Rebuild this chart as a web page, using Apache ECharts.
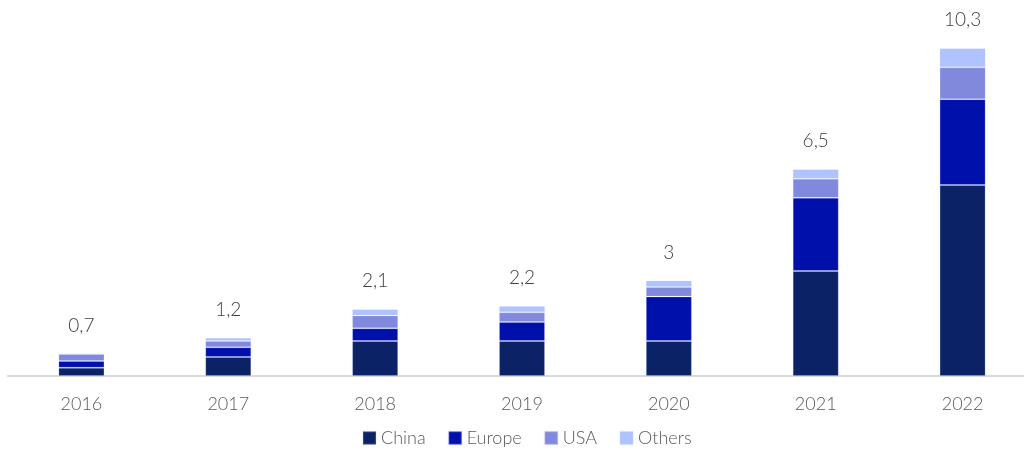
<!DOCTYPE html>
<html>
<head>
<meta charset="utf-8">
<script src="https://cdn.jsdelivr.net/npm/echarts@6/dist/echarts.min.js"></script>
<style>
  html, body { margin: 0; padding: 0; background: #fff; }
  #chart { width: 1024px; height: 450px; }
</style>
</head>
<body>
<div id="chart"></div>
<script>
// 年份
const years = ['2016', '2017', '2018', '2019', '2020', '2021', '2022'];
// 各地区数值
const china  = [0.26, 0.6, 1.1, 1.1, 1.1, 3.3, 6.0];
const europe = [0.21, 0.3, 0.4, 0.6, 1.4, 2.3, 2.7];
const usa    = [0.22, 0.2, 0.4, 0.3, 0.3, 0.6, 1.0];
const others = [0.0, 0.1, 0.2, 0.2, 0.2, 0.3, 0.6];
// 柱顶总计
const totals = [0.7, 1.2, 2.1, 2.2, 3, 6.5, 10.3];

const chart = echarts.init(document.getElementById('chart'));

const fontFamily = 'Lato, "Open Sans", sans-serif';

function barSeries(name, data, color) {
  return {
    name: name,
    type: 'bar',
    stack: 'total',
    barWidth: 46,
    data: data,
    itemStyle: {
      color: color,
      borderColor: 'rgba(200,210,255,0.2)',
      borderWidth: 1
    }
  };
}

const option = {
  animation: false,
  textStyle: { fontFamily: fontFamily },
  grid: {
    left: 8,
    width: 1028,
    top: 26,
    bottom: 74,
    outerBoundsMode: 'none'
  },
  legend: {
    top: 424,
    left: 357,
    itemWidth: 13,
    itemHeight: 13,
    itemGap: 22,
    icon: 'rect',
    textStyle: { fontSize: 18, color: '#595959', fontFamily: fontFamily, fontWeight: 300 },
    data: ['China', 'Europe', 'USA', 'Others']
  },
  xAxis: {
    type: 'category',
    data: years,
    axisTick: { show: false },
    axisLine: { lineStyle: { color: '#d9d9d9', width: 2 } },
    axisLabel: { fontSize: 18, color: '#595959', margin: 19, fontWeight: 300 }
  },
  yAxis: {
    type: 'value',
    min: 0,
    max: 11,
    show: false,
    splitLine: { show: false }
  },
  series: [
    barSeries('China', china, '#0b2266'),
    barSeries('Europe', europe, '#0010ab'),
    barSeries('USA', usa, '#8189dd'),
    barSeries('Others', others, '#aec3ff'),
    {
      name: 'Total',
      type: 'line',
      data: totals,
      symbol: 'circle',
      symbolSize: 1,
      itemStyle: { color: 'rgba(0,0,0,0)' },
      lineStyle: { width: 0, color: 'rgba(0,0,0,0)' },
      silent: true,
      z: 10,
      label: {
        show: true,
        position: 'top',
        distance: 18,
        fontSize: 19,
        color: '#404040',
        fontWeight: 300,
        formatter: p => String(p.value).replace('.', ',')
      }
    }
  ]
};

chart.setOption(option);
</script>
</body>
</html>
